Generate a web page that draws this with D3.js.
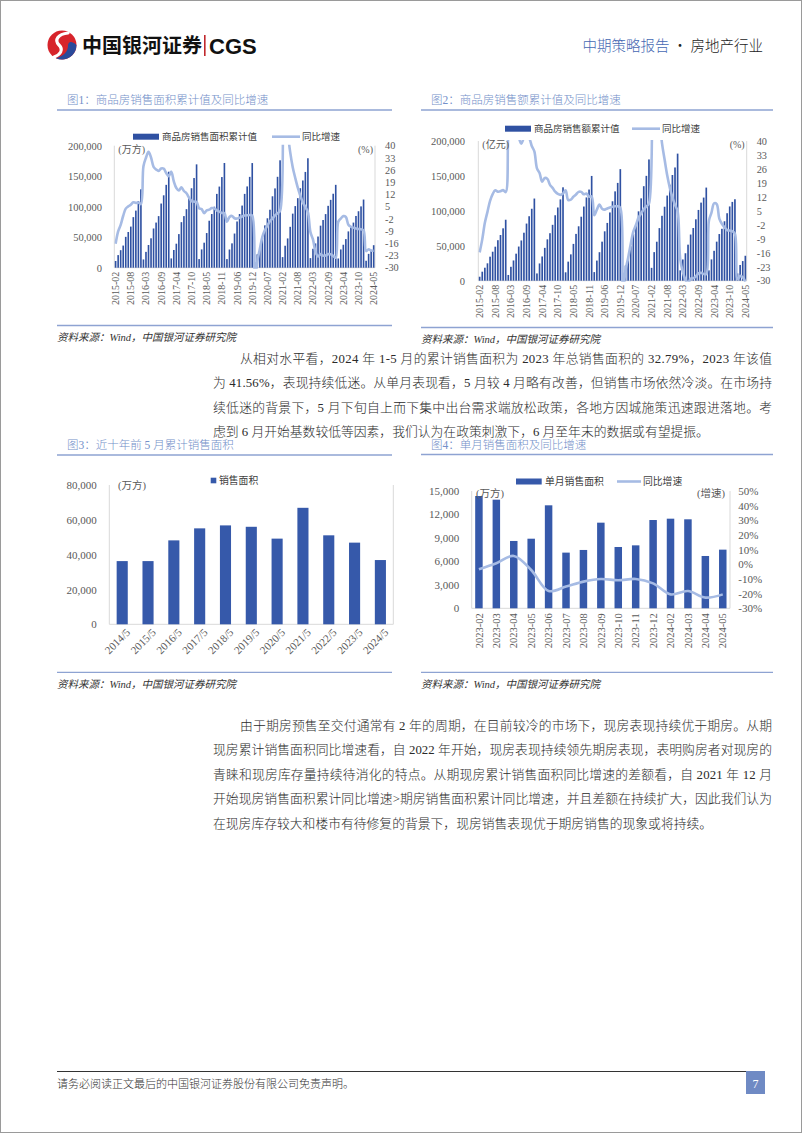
<!DOCTYPE html>
<html><head><meta charset="utf-8">
<script src="https://cdn.jsdelivr.net/npm/d3@7/dist/d3.min.js"></script>
<style>body{margin:0;background:#fff}svg{display:block}</style>
</head><body><svg id="page" width="802" height="1133"></svg>
<script>
// ---------------- DATA ----------------
const cumYears = [2015,2016,2017,2018,2019,2020,2021,2022,2023,2024];
const tickMonths = ["2015-02","2015-08","2016-03","2016-09","2017-04","2017-10","2018-05","2018-11","2019-06","2019-12","2020-07","2021-02","2021-08","2022-03","2022-09","2023-04","2023-10","2024-05"];
// 商品房销售面积累计值 (万方), Feb..Dec each year, 2024 Feb..May
const areaCum = [
 10998,20646,28723,36300,50577,58532,67385,82888,93608,109275,128495,
 13537,25955,37200,48200,64302,73984,84568,105185,118695,135829,157349,
 15224,29035,39358,55100,74662,84590,95956,116000,130254,147000,169408,
 14123,30000,41000,56800,77000,88000,100000,121000,133000,148604,171654,
 14102,29829,39907,56000,75786,88000,101849,121000,133251,148905,171558,
 8475,21978,33973,49200,69404,81000,95000,117073,130000,149000,176086,
 17363,36007,48000,67000,88635,101000,114000,130332,143000,157000,179433,
 15703,31046,39768,51100,68923,78178,87890,101422,111179,121250,135837,
 15133,29946,37636,46900,59515,66563,73949,84806,92579,100509,111735,
 11369,22668,29252,36900];
// 同比增速 (%)
const areaYoY = [
 -16.3,-9.2,-5.4,-0.2,3.9,5.2,6.1,7.5,7.2,7.4,6.5,
 28.2,33.1,36.5,33.2,27.9,26.4,25.5,26.9,26.8,24.3,22.5,
 25.1,19.5,15.7,14.3,16.1,14.0,12.7,10.3,8.2,7.9,7.7,
 4.1,3.6,1.3,2.9,3.3,4.2,4.0,2.9,2.2,1.4,1.3,
 -3.6,-0.9,-0.3,-1.6,-1.8,-1.3,-0.6,-0.1,0.1,0.2,-0.1,
 -39.9,-26.3,-19.3,-12.3,-8.4,-5.8,-3.3,-1.8,0.0,1.3,2.6,
 104.9,63.8,48.1,36.3,27.7,21.5,15.9,11.3,7.5,4.8,1.9,
 -9.6,-13.8,-20.9,-23.6,-22.2,-23.1,-23.0,-22.2,-22.3,-23.3,-24.3,
 -3.6,-1.8,-0.4,-0.9,-5.3,-6.5,-7.1,-7.5,-7.8,-8.0,-8.5,
 -20.5,-19.4,-20.2,-20.3];
// 商品房销售额累计值 (亿元)
const amountCum = [
 5700,12900,18600,24900,34400,41500,48700,58000,65400,75000,87281,
 8200,19900,29000,38700,48900,57600,68700,81800,92300,103000,117627,
 10400,24700,34700,47000,59200,68000,80000,93700,104800,116400,133701,
 12000,27300,37700,52700,67000,77900,91600,106200,119200,130500,149973,
 12300,28800,40800,55900,70700,82700,97700,113700,127900,140000,159725,
 7900,21700,33200,49400,66900,81000,99300,117900,135300,150100,173613,
 18400,40900,55800,75300,92900,105900,121900,137500,151300,162100,181930,
 14800,30400,39300,51600,66100,75400,87900,101300,111800,119000,133308,
 14800,30500,42800,55900,66800,74300,85100,96600,106300,112800,116622,
 10500,22500,28100,35700];
const amountYoY = [
 -15.8,-9.3,-1.0,4.5,10.0,13.4,15.3,14.6,14.8,15.4,14.4,
 43.6,54.1,55.9,55.5,42.1,38.7,41.3,41.3,41.2,37.5,34.8,
 26.3,24.0,19.6,21.5,21.0,18.0,16.5,14.6,13.5,13.0,13.7,
 15.3,10.4,10.6,12.1,13.2,14.5,14.5,13.3,13.7,12.1,12.2,
 2.8,5.6,8.1,6.1,5.6,6.2,6.7,7.1,7.3,7.3,6.5,
 -35.9,-24.7,-18.6,-11.6,-5.4,-2.1,1.6,3.7,5.8,7.2,8.7,
 133.4,88.5,68.2,52.4,38.9,30.7,22.8,16.6,11.8,8.0,4.8,
 -19.3,-25.6,-29.5,-31.5,-28.9,-28.8,-27.9,-26.3,-26.1,-26.6,-26.7,
 -0.1,4.1,8.8,8.4,1.1,-1.5,-3.2,-4.6,-4.9,-5.2,-6.5,
 -29.3,-27.6,-28.3,-30.5];
const leftTicks12 = [0,50000,100000,150000,200000];
const rightTicks12 = [-30,-23,-16,-9,-2,5,12,19,26,33,40];

// 图3
const may5Years = ["2014/5","2015/5","2016/5","2017/5","2018/5","2019/5","2020/5","2021/5","2022/5","2023/5","2024/5"];
const may5Area = [36300,36300,48200,55100,56800,56000,49200,66900,51100,46900,36900];
const ticks3 = [0,20000,40000,60000,80000];

// 图4
const months4 = ["2023-02","2023-03","2023-04","2023-05","2023-06","2023-07","2023-08","2023-09","2023-10","2023-11","2023-12","2024-02","2024-03","2024-04","2024-05"];
const monthArea = [14360,13890,8610,8900,13170,7120,7460,10950,7840,8050,11290,11460,11380,6690,7500];
const monthYoY = [-3.4,0.7,5.7,-3.9,-18.2,-15.2,-11.8,-10.0,-10.9,-10.0,-13.0,-20.5,-18.2,-22.7,-20.5];
const leftTicks4 = [0,3000,6000,9000,12000,15000];
const rightTicks4 = [-0.3,-0.2,-0.1,0,0.1,0.2,0.3,0.4,0.5];

const para1 = [
 "从相对水平看，2024 年 1-5 月的累计销售面积为 2023 年总销售面积的 32.79%，2023 年该值",
 "为 41.56%，表现持续低迷。从单月表现看，5 月较 4 月略有改善，但销售市场依然冷淡。在市场持",
 "续低迷的背景下，5 月下旬自上而下集中出台需求端放松政策，各地方因城施策迅速跟进落地。考",
 "虑到 6 月开始基数较低等因素，我们认为在政策刺激下，6 月至年末的数据或有望提振。"];
const para2 = [
 "由于期房预售至交付通常有 2 年的周期，在目前较冷的市场下，现房表现持续优于期房。从期",
 "现房累计销售面积同比增速看，自 2022 年开始，现房表现持续领先期房表现，表明购房者对现房的",
 "青睐和现房库存量持续待消化的特点。从期现房累计销售面积同比增速的差额看，自 2021 年 12 月",
 "开始现房销售面积累计同比增速>期房销售面积累计同比增速，并且差额在持续扩大，因此我们认为",
 "在现房库存较大和楼市有待修复的背景下，现房销售表现优于期房销售的现象或将持续。"];

// ---------------- STYLE ----------------
const SERIF = "'Liberation Serif','Noto Sans CJK SC',serif";
const CJK = "'Noto Sans CJK SC','Noto Sans',sans-serif";
const BAR = "#2f51a2", BAR2 = "#3659aa", LINE = "#a6bbe4", AXC = "#595959", GRID = "#d9d9d9";
const TITLE = "#7390c9", RULE = "#8ea3d2";

// build month categories
const cats = [];
cumYears.forEach(y => { const last = y === 2024 ? 5 : 12; for (let m = 2; m <= last; m++) cats.push(y + "-" + String(m).padStart(2,"0")); });

const svg = d3.select("#page");
svg.append("rect").attr("x",0.5).attr("y",0.5).attr("width",801).attr("height",1132).attr("fill","#fff").attr("stroke","#9a9a9a");

// ---------------- HEADER ----------------
const logo = svg.append("g").attr("transform","translate(62,45)");
logo.append("circle").attr("r",14.5).attr("fill","#d7242b");
logo.append("path").attr("d","M14.5,0 A14.5,14.5 0 0 1 -6,13.2 C2,11 6,6 6,1 C6,-3 9,-5 14.5,0 Z").attr("fill","#2a4a9a");
logo.append("path").attr("d","M6,-12 C-4,-11 -8,-5 -3,0 C2,5 -2,10 -8,12").attr("fill","none").attr("stroke","#fff").attr("stroke-width",3.2).attr("stroke-linecap","round");
svg.append("text").attr("x",82).attr("y",53).attr("font-family",CJK).attr("font-weight",700).attr("font-size",20).attr("fill","#111").text("中国银河证券");
svg.append("rect").attr("x",204).attr("y",35).attr("width",1.6).attr("height",21).attr("fill","#c0282d");
svg.append("text").attr("x",209).attr("y",54).attr("font-family","'Liberation Sans',Arial,sans-serif").attr("font-weight",700).attr("font-size",22).attr("fill","#111").text("CGS");
const hr = svg.append("text").attr("x",763).attr("y",51).attr("text-anchor","end").attr("font-family",CJK).attr("font-weight",300).attr("font-size",14.5);
hr.append("tspan").attr("fill","#4568b2").text("中期策略报告");
hr.append("tspan").attr("fill","#222").text(" · 房地产行业");

// ---------------- helpers ----------------
const fmtNum = d => String(d);
function figFrame(x0, x1, title, titleY, ruleY, srcRuleY, srcY) {
  svg.append("text").attr("x",x0+10).attr("y",titleY).attr("font-family",SERIF).attr("font-weight",300).attr("font-size",11.5).attr("fill",TITLE).text(title);
  svg.append("line").attr("x1",x0).attr("x2",x1).attr("y1",ruleY).attr("y2",ruleY).attr("stroke",RULE).attr("stroke-width",1.3);
  svg.append("line").attr("x1",x0).attr("x2",x1).attr("y1",srcRuleY).attr("y2",srcRuleY).attr("stroke",RULE).attr("stroke-width",1.3);
  svg.append("text").attr("x",x0).attr("y",srcY).attr("font-family",SERIF).attr("font-style","italic").attr("font-size",10.5).attr("fill","#333").text("资料来源：Wind，中国银河证券研究院");
}
function styleAxis(g, size) {
  g.select(".domain").remove();
  g.selectAll("line").remove();
  g.selectAll("text").attr("font-family",SERIF).attr("font-size",size).attr("fill",AXC);
}
function frameLines(g, x0, x1, yt, yb, right) {
  g.append("line").attr("x1",x0).attr("x2",x0).attr("y1",yt).attr("y2",yb).attr("stroke",GRID);
  if (right) g.append("line").attr("x1",x1).attr("x2",x1).attr("y1",yt).attr("y2",yb).attr("stroke",GRID);
  g.append("line").attr("x1",x0).attr("x2",x1).attr("y1",yb).attr("y2",yb).attr("stroke",GRID);
}

function comboChart(c) {
  const g = svg.append("g");
  const x = d3.scaleBand().domain(cats).range([c.x0, c.x1]).paddingInner(0.36).paddingOuter(0.2);
  const y = d3.scaleLinear().domain([0,200000]).range([c.yb, c.yt]);
  const y2 = d3.scaleLinear().domain([-30,40]).range([c.yb, c.yt]);
  frameLines(g, c.x0, c.x1, c.yt, c.yb, true);
  g.selectAll("rect.bar").data(c.bars).join("rect").attr("class","bar")
    .attr("x",(d,i)=>x(cats[i])).attr("width",x.bandwidth())
    .attr("y",d=>y(d)).attr("height",d=>y(0)-y(d)).attr("fill",BAR);
  const cid = "clip" + c.id;
  svg.append("clipPath").attr("id",cid).append("rect").attr("x",c.x0).attr("y",c.yt-1).attr("width",c.x1-c.x0).attr("height",c.yb-c.yt+2);
  const line = d3.line().x((d,i)=>x(cats[i])+x.bandwidth()/2).y(d=>y2(d)).curve(d3.curveCatmullRom.alpha(0.5));
  g.append("path").datum(c.yoy).attr("d",line).attr("fill","none").attr("stroke",LINE).attr("stroke-width",2.6).attr("clip-path",`url(#${cid})`);
  const la = g.append("g").attr("transform",`translate(${c.x0},0)`).call(d3.axisLeft(y).tickValues(leftTicks12).tickFormat(d3.format(",")).tickSize(0).tickPadding(c.x0-c.leftLab));
  styleAxis(la, 10.5);
  const ra = g.append("g").attr("transform",`translate(${c.x1},0)`).call(d3.axisRight(y2).tickValues(rightTicks12).tickFormat(fmtNum).tickSize(0).tickPadding(c.rightLab-c.x1));
  styleAxis(ra, 10.3);
  const ba = g.append("g").attr("transform",`translate(0,${c.yb})`).call(d3.axisBottom(x).tickValues(tickMonths).tickSize(0));
  styleAxis(ba, 10);
  ba.selectAll("text").attr("transform","rotate(-90)").attr("x",-4).attr("y",0).attr("dy","0.35em").attr("text-anchor","end");
  // legend
  g.append("rect").attr("x",c.lg[0]).attr("y",c.lg[1]-3).attr("width",26).attr("height",6).attr("fill",BAR);
  g.append("text").attr("x",c.lg[0]+29).attr("y",c.lg[1]+3.3).attr("font-family",CJK).attr("font-size",9.5).attr("fill","#404040").text(c.barName);
  g.append("line").attr("x1",c.lg[2]).attr("x2",c.lg[2]+28).attr("y1",c.lg[1]).attr("y2",c.lg[1]).attr("stroke",LINE).attr("stroke-width",2.6);
  g.append("text").attr("x",c.lg[2]+30).attr("y",c.lg[1]+3.3).attr("font-family",CJK).attr("font-size",9.5).attr("fill","#404040").text("同比增速");
  g.append("text").attr("x",c.x0+4).attr("y",c.yt+7).attr("font-family",SERIF).attr("font-size",10).attr("fill",AXC).text(c.unit);
  g.append("text").attr("x",c.x1-2).attr("y",c.yt+7).attr("text-anchor","end").attr("font-family",SERIF).attr("font-size",10).attr("fill",AXC).text("(%)");
}

// ---------------- FIG 1 & 2 ----------------
figFrame(57, 392, "图1：商品房销售面积累计值及同比增速", 104, 110, 325.5, 341);
figFrame(421, 773, "图2：商品房销售额累计值及同比增速", 104, 110, 327.5, 343);
comboChart({id:1, x0:114.3, x1:375, yt:145.7, yb:267.7, leftLab:102, rightLab:385, bars:areaCum, yoy:areaYoY, barName:"商品房销售面积累计值", unit:"(万方)", lg:[133,136.7,272]});
comboChart({id:2, x0:478.3, x1:746.7, yt:141, yb:280.7, leftLab:465, rightLab:756.7, bars:amountCum, yoy:amountYoY, barName:"商品房销售额累计值", unit:"(亿元)", lg:[505,128.7,632]});

// ---------------- BODY TEXT ----------------
function paragraph(lines, y0, step) {
  lines.forEach((t, i) => {
    const x = i === 0 ? 240 : 213;
    const el = svg.append("text").attr("x",x).attr("y",y0 + i*step).attr("font-family",SERIF).attr("font-weight",300).attr("font-size",12.8).attr("fill","#2a2a2a").text(t);
    if (i < lines.length - 1) el.attr("textLength",772 - x).attr("lengthAdjust","spacing");
  });
}
paragraph(para1, 363, 24.4);
paragraph(para2, 730, 24.4);

// ---------------- FIG 3 ----------------
figFrame(57, 392, "图3：近十年前 5 月累计销售面积", 449, 455, 672.3, 688);
(function(){
  const g = svg.append("g");
  const x0 = 109.3, x1 = 393.3, yt = 485, yb = 624.3;
  const x = d3.scaleBand().domain(may5Years).range([x0,x1]).paddingInner(0.57).paddingOuter(0.285);
  const y = d3.scaleLinear().domain([0,80000]).range([yb,yt]);
  frameLines(g, x0, x1, yt, yb, true);
  g.selectAll("rect.bar").data(may5Area).join("rect").attr("class","bar")
    .attr("x",(d,i)=>x(may5Years[i])).attr("width",x.bandwidth()).attr("y",d=>y(d)).attr("height",d=>y(0)-y(d)).attr("fill",BAR2);
  const la = g.append("g").attr("transform",`translate(${x0},0)`).call(d3.axisLeft(y).tickValues(ticks3).tickFormat(d3.format(",")).tickSize(0).tickPadding(12.5));
  styleAxis(la, 11);
  const ba = g.append("g").attr("transform",`translate(0,${yb})`).call(d3.axisBottom(x).tickSize(0));
  styleAxis(ba, 11);
  ba.selectAll("text").attr("transform","translate(6,6) rotate(-45)").attr("x",0).attr("y",0).attr("dy","0.35em").attr("text-anchor","end");
  g.append("rect").attr("x",210.7).attr("y",477.7).attr("width",5.6).attr("height",5.6).attr("fill",BAR2);
  g.append("text").attr("x",219).attr("y",484).attr("font-family",CJK).attr("font-size",9.8).attr("fill","#404040").text("销售面积");
  g.append("text").attr("x",118).attr("y",488.5).attr("font-family",SERIF).attr("font-size",10.5).attr("fill",AXC).text("(万方)");
})();

// ---------------- FIG 4 ----------------
figFrame(421, 773, "图4：单月销售面积及同比增速", 449, 454.5, 672.3, 688);
(function(){
  const g = svg.append("g");
  const x0 = 471.7, x1 = 730, yt = 491, yb = 608.3;
  const x = d3.scaleBand().domain(months4).range([x0,x1]).paddingInner(0.57).paddingOuter(0.2);
  const y = d3.scaleLinear().domain([0,15000]).range([yb,yt]);
  const y2 = d3.scaleLinear().domain([-0.3,0.5]).range([yb,yt]);
  frameLines(g, x0, x1, yt, yb, true);
  g.selectAll("rect.bar").data(monthArea).join("rect").attr("class","bar")
    .attr("x",(d,i)=>x(months4[i])).attr("width",x.bandwidth()).attr("y",d=>y(d)).attr("height",d=>y(0)-y(d)).attr("fill",BAR2);
  const line = d3.line().x((d,i)=>x(months4[i])+x.bandwidth()/2).y(d=>y2(d/100)).curve(d3.curveCatmullRom.alpha(0.5));
  g.append("path").datum(monthYoY).attr("d",line).attr("fill","none").attr("stroke",LINE).attr("stroke-width",2.6);
  const la = g.append("g").attr("transform",`translate(${x0},0)`).call(d3.axisLeft(y).tickValues(leftTicks4).tickFormat(d3.format(",")).tickSize(0).tickPadding(12.5));
  styleAxis(la, 11);
  const ra = g.append("g").attr("transform",`translate(${x1},0)`).call(d3.axisRight(y2).tickValues(rightTicks4).tickFormat(d => Math.round(d*100) + "%").tickSize(0).tickPadding(8.3));
  styleAxis(ra, 11);
  const ba = g.append("g").attr("transform",`translate(0,${yb})`).call(d3.axisBottom(x).tickSize(0));
  styleAxis(ba, 10.5);
  ba.selectAll("text").attr("transform","rotate(-90)").attr("x",-5).attr("y",0).attr("dy","0.35em").attr("text-anchor","end");
  g.append("rect").attr("x",516).attr("y",478.5).attr("width",25.7).attr("height",6).attr("fill",BAR2);
  g.append("text").attr("x",545).attr("y",485).attr("font-family",CJK).attr("font-size",9.8).attr("fill","#404040").text("单月销售面积");
  g.append("line").attr("x1",617).attr("x2",641).attr("y1",481.5).attr("y2",481.5).attr("stroke",LINE).attr("stroke-width",2.6);
  g.append("text").attr("x",643).attr("y",485).attr("font-family",CJK).attr("font-size",9.8).attr("fill","#404040").text("同比增速");
  g.append("text").attr("x",476).attr("y",496.5).attr("font-family",SERIF).attr("font-size",10.5).attr("fill",AXC).text("(万方)");
  g.append("text").attr("x",725).attr("y",496.5).attr("text-anchor","end").attr("font-family",SERIF).attr("font-size",10.5).attr("fill",AXC).text("(增速)");
})();

// ---------------- FOOTER ----------------
svg.append("line").attr("x1",57).attr("x2",746).attr("y1",1071.5).attr("y2",1071.5).attr("stroke","#333").attr("stroke-width",1);
svg.append("rect").attr("x",746).attr("y",1071).attr("width",19).attr("height",23).attr("fill","#6f8ac4");
svg.append("text").attr("x",755.5).attr("y",1087.5).attr("text-anchor","middle").attr("font-family",SERIF).attr("font-size",12).attr("fill","#fff").text("7");
svg.append("text").attr("x",57).attr("y",1088).attr("font-family",CJK).attr("font-weight",300).attr("font-size",11).attr("fill","#333").text("请务必阅读正文最后的中国银河证券股份有限公司免责声明。");
</script></body></html>
